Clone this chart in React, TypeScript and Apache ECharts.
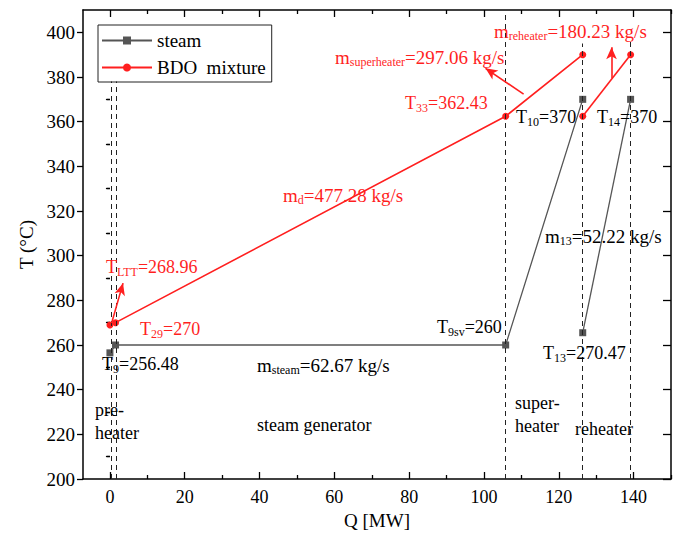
import React, { useEffect, useRef } from "react";
import * as echarts from "echarts";

// ---- data ----
const xMajorTicks = [0, 20, 40, 60, 80, 100, 120, 140];
const xMinorTicks = [10, 30, 50, 70, 90, 110, 130, 150];
const yMajorTicks = [200, 220, 240, 260, 280, 300, 320, 340, 360, 380, 400];
const yMinorTicks = [210, 230, 250, 270, 290, 310, 330, 350, 370, 390];

const steamSegment1 = [[0, 256.48], [1.5, 260], [105.8, 260], [126.4, 370]];
const steamSegment2 = [[126.4, 265.5], [139.2, 370]];
const bdoSegment1 = [[0, 268.96], [1.5, 270], [105.8, 362.43], [126.4, 390]];
const bdoSegment2 = [[126.4, 362.43], [139.2, 390]];

const dividerX = [0.3, 1.8, 105.8, 126.4, 139.2];
const dividerTop = [378, 378, 408, 395, 396];

const arrowFrom = [[110.6, 372.3], [134.1, 379.4], [0.45, 269.8]];
const arrowTo = [[100.4, 383.9], [134.1, 393.3], [3.5, 287.7]];

const FONT = "Liberation Serif";
const RED = "#ff1f1f";
const GRAY = "#555555";
const BLACK = "#000000";

type Part = [string, "n" | "s" | "t" | "M" | "S"];
const annotations: { x: number; y: number; color: string; parts: Part[] }[] = [
  { x: 335, y: 57, color: RED, parts: [["m", "M"], ["superheater", "S"], ["=297.06 kg/s", "M"]] },
  { x: 494, y: 31, color: RED, parts: [["m", "M"], ["reheater", "S"], ["=180.23 kg/s", "M"]] },
  { x: 405, y: 103, color: RED, parts: [["T", "n"], ["33", "t"], ["=362.43", "n"]] },
  { x: 283, y: 195, color: RED, parts: [["m", "M"], ["d", "S"], ["=477.28 kg/s", "M"]] },
  { x: 106, y: 267, color: RED, parts: [["T", "n"], ["LTT", "t"], ["=268.96", "n"]] },
  { x: 140, y: 329, color: RED, parts: [["T", "n"], ["29", "t"], ["=270", "n"]] },
  { x: 516, y: 117, color: BLACK, parts: [["T", "n"], ["10", "t"], ["=370", "n"]] },
  { x: 597, y: 117, color: BLACK, parts: [["T", "n"], ["14", "t"], ["=370", "n"]] },
  { x: 545, y: 236, color: BLACK, parts: [["m", "M"], ["13", "S"], ["=52.22 kg/s", "M"]] },
  { x: 437, y: 327, color: BLACK, parts: [["T", "n"], ["9sv", "t"], ["=260", "n"]] },
  { x: 543, y: 353, color: BLACK, parts: [["T", "n"], ["13", "t"], ["=270.47", "n"]] },
  { x: 102, y: 364, color: BLACK, parts: [["T", "n"], ["9", "t"], ["=256.48", "n"]] },
  { x: 257, y: 365, color: BLACK, parts: [["m", "M"], ["steam", "S"], ["=62.67 kg/s", "M"]] },
  { x: 95, y: 410, color: BLACK, parts: [["pre-", "n"]] },
  { x: 95, y: 433, color: BLACK, parts: [["heater", "n"]] },
  { x: 257, y: 425, color: BLACK, parts: [["steam generator", "n"]] },
  { x: 515, y: 403, color: BLACK, parts: [["super-", "n"]] },
  { x: 515, y: 426, color: BLACK, parts: [["heater", "n"]] },
  { x: 575, y: 429, color: BLACK, parts: [["reheater", "n"]] },
];

const X_MIN = -7.2;
const X_MAX = 150;
const Y_MIN = 200;
const Y_MAX = 410;

function makeAnnotation(a: { x: number; y: number; color: string; parts: Part[] }) {
  const text = a.parts.map(([t, k]) => `{${k}|${t}}`).join("");
  return {
    type: "text",
    x: a.x,
    y: a.y,
    silent: true,
    z: 10,
    style: {
      text,
      fill: a.color,
      fontFamily: FONT,
      fontSize: 18,
      align: "left",
      verticalAlign: "middle",
      rich: {
        n: { fill: a.color, fontFamily: FONT, fontSize: 18, lineHeight: 22 },
        t: { fill: a.color, fontFamily: FONT, fontSize: 12, lineHeight: 14, verticalAlign: "bottom" },
        M: { fill: a.color, fontFamily: FONT, fontSize: 19, lineHeight: 22 },
        S: { fill: a.color, fontFamily: FONT, fontSize: 12, lineHeight: 11, verticalAlign: "bottom" },
      },
    },
  };
}

function tickAxis(position: string, values: number[], inside: boolean, length: number) {
  const horizontal = position === "top" || position === "bottom";
  return {
    type: "value",
    position,
    min: horizontal ? X_MIN : Y_MIN,
    max: horizontal ? X_MAX : Y_MAX,
    axisLine: { show: false },
    axisTick: { show: true, inside, length, customValues: values, lineStyle: { color: BLACK, width: 1.3 } },
    axisLabel: { show: false },
    splitLine: { show: false },
  };
}

export default function App() {
  const ref = useRef<HTMLDivElement>(null);

  useEffect(() => {
    if (!ref.current) return;
    const chart = echarts.init(ref.current, undefined, { renderer: "svg" });

    const lineSeries = (name: string, data: number[][], color: string, symbol: string, extra: any = {}) => ({
      type: "line",
      name,
      data,
      symbol,
      symbolSize: 7,
      showSymbol: true,
      color,
      lineStyle: { color, width: name === "steam" ? 1.3 : 1.6 },
      itemStyle: { color },
      emphasis: { disabled: true },
      z: 3,
      ...extra,
    });

    const dividerLines = dividerX.map((x, i) => [
      { coord: [x, Y_MIN], symbol: "none", lineStyle: { type: [5, 4], color: "#222", width: 1 } },
      { coord: [x, dividerTop[i]], symbol: "none" },
    ]);
    const arrowLines = arrowFrom.map((f, i) => [
      { coord: f, symbol: "none", lineStyle: { type: "solid", color: RED, width: 1.6 } },
      { coord: arrowTo[i], symbol: "arrow", symbolSize: [8, 12] },
    ]);

    chart.setOption({
      animation: false,
      backgroundColor: "#ffffff",
      textStyle: { fontFamily: FONT },
      grid: { left: 83, right: 21, top: 10, bottom: 61, containLabel: false },
      legend: {
        data: ["steam", "BDO  mixture"],
        orient: "vertical",
        left: 98,
        top: 25,
        itemWidth: 50,
        itemHeight: 10,
        itemGap: 8,
        padding: [6, 6, 5, 3],
        borderColor: "#222",
        borderWidth: 1,
        backgroundColor: "#ffffff",
        textStyle: { fontFamily: FONT, fontSize: 19, color: BLACK },
      },
      xAxis: [
        {
          type: "value",
          position: "bottom",
          min: X_MIN,
          max: X_MAX,
          axisLine: { show: true, onZero: false, lineStyle: { color: BLACK, width: 1.5 } },
          axisTick: { show: true, inside: true, length: 7, customValues: xMajorTicks, lineStyle: { color: BLACK, width: 1.3 } },
          axisLabel: { customValues: xMajorTicks, color: BLACK, fontFamily: FONT, fontSize: 18, margin: 9 },
          splitLine: { show: false },
          name: "Q [MW]",
          nameLocation: "middle",
          nameGap: 32,
          nameTextStyle: { fontFamily: FONT, fontSize: 19, color: BLACK },
        },
        tickAxis("bottom", xMinorTicks, true, 4),
        {
          ...tickAxis("top", xMajorTicks, true, 7),
          axisLine: { show: true, onZero: false, lineStyle: { color: BLACK, width: 1.5 } },
        },
        tickAxis("top", xMinorTicks, true, 4),
      ],
      yAxis: [
        {
          type: "value",
          position: "left",
          min: Y_MIN,
          max: Y_MAX,
          axisLine: { show: true, onZero: false, lineStyle: { color: BLACK, width: 1.5 } },
          axisTick: { show: true, inside: false, length: 6, customValues: yMajorTicks, lineStyle: { color: BLACK, width: 1.3 } },
          axisLabel: { customValues: yMajorTicks, color: BLACK, fontFamily: FONT, fontSize: 19, margin: 8 },
          splitLine: { show: false },
          name: "T (°C)",
          nameLocation: "middle",
          nameGap: 43,
          nameTextStyle: { fontFamily: FONT, fontSize: 19, color: BLACK },
        },
        tickAxis("left", yMinorTicks, false, 3),
        {
          ...tickAxis("right", yMajorTicks, true, 8),
          axisLine: { show: true, onZero: false, lineStyle: { color: BLACK, width: 1.5 } },
        },
        tickAxis("right", yMinorTicks, true, 4),
      ],
      series: [
        lineSeries("steam", steamSegment1, GRAY, "rect", {
          markLine: {
            silent: true,
            symbol: ["none", "none"],
            label: { show: false },
            emphasis: { disabled: true },
            data: [...dividerLines, ...arrowLines],
          },
        }),
        lineSeries("steam", steamSegment2, GRAY, "rect"),
        lineSeries("BDO  mixture", bdoSegment1, RED, "circle"),
        lineSeries("BDO  mixture", bdoSegment2, RED, "circle"),
      ],
      graphic: annotations.map(makeAnnotation),
    });

    return () => chart.dispose();
  }, []);

  return <div ref={ref} style={{ width: 692, height: 540, margin: -8 }} />;
}
